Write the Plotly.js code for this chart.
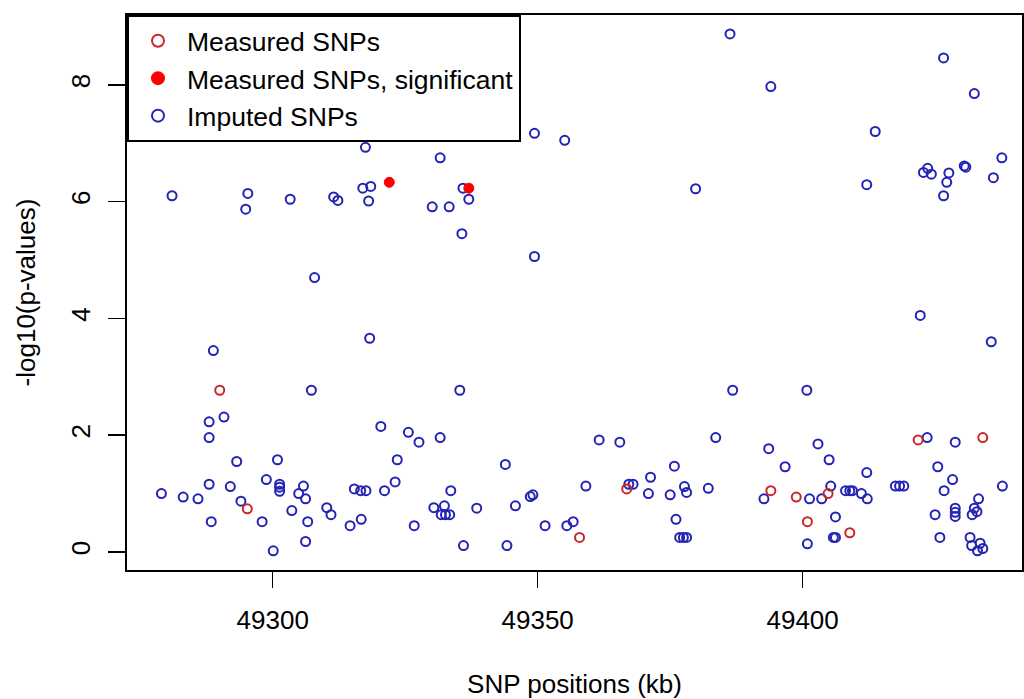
<!DOCTYPE html>
<html>
<head>
<meta charset="utf-8">
<script src="https://cdn.plot.ly/plotly-3.0.1.min.js"></script>
<style>html,body{margin:0;padding:0;background:#fff;}#chart{width:1024px;height:699px;}</style>
</head>
<body>
<div id="chart"></div>
<script>
// Imputed SNPs: position (kb) and -log10(p)
const imputedPos = [
49317.5,49281.0,49295.3,49303.3,49311.5,49312.3,49317.0,49318.5,49318.1,49294.9,
49330.1,49333.3,49307.9,49318.3,49288.8,49349.4,49355.1,49331.6,49335.9,49337.0,
49379.8,49335.7,49349.4,49386.3,49394.0,49413.7,49426.6,49432.4,49437.6,49412.1,
49422.8,49424.3,49423.6,49427.6,49427.2,49426.6,49430.5,49430.8,49436.0,49422.2,
49435.6,49307.3,49290.8,49288.0,49288.0,49320.4,49325.6,49327.6,49293.2,49300.9,
49323.5,49298.8,49288.0,49292.0,49301.3,49301.3,49301.3,49305.8,49304.9,49306.2,
49279.0,49283.1,49285.9,49294.0,49303.6,49310.2,49311.0,49288.4,49298.0,49306.6,
49315.4,49316.6,49317.6,49321.1,49323.1,49316.7,49314.6,49326.7,49306.2,49300.1,
49335.3,49331.6,49361.6,49365.5,49383.6,49343.9,49333.6,49330.4,49332.4,49331.8,
49332.6,49333.4,49338.5,49345.8,49348.6,49349.1,49351.4,49355.5,49356.7,49336.0,
49344.2,49359.1,49367.2,49368.0,49371.3,49370.9,49375.0,49375.8,49377.7,49378.1,
49382.2,49376.1,49376.8,49377.5,49378.1,49386.8,49400.8,49393.6,49402.9,49405.0,
49396.7,49412.1,49423.5,49428.8,49425.5,49428.3,49426.7,49437.7,49392.7,49401.3,
49403.6,49405.3,49408.1,49408.9,49409.4,49411.1,49412.2,49417.5,49418.3,49419.1,
49425.0,49428.8,49428.8,49428.8,49433.2,49432.0,49432.9,49432.4,49406.2,49405.8,
49406.2,49400.9,49425.9,49431.6,49431.9,49433.5,49433.0,49434.0
];
const imputedLogP = [
6.93,6.10,6.14,6.04,6.08,6.02,6.23,6.26,6.01,5.87,
5.91,5.91,4.70,3.66,3.45,7.17,7.05,6.75,6.23,6.04,
6.22,5.45,5.06,8.87,7.97,7.20,8.46,7.85,6.75,6.29,
6.50,6.47,6.57,6.49,6.33,6.10,6.61,6.59,6.41,4.05,
3.60,2.77,2.31,2.23,1.96,2.15,2.05,1.88,1.55,1.58,
1.58,1.24,1.16,1.12,1.16,1.11,1.04,1.13,1.00,0.91,
1.00,0.94,0.91,0.87,0.71,0.76,0.64,0.52,0.52,0.52,
1.08,1.05,1.05,1.05,1.20,0.56,0.45,0.45,0.18,0.02,
2.77,1.96,1.92,1.88,1.96,1.50,1.05,0.76,0.79,0.64,
0.64,0.64,0.75,0.79,0.95,0.98,0.45,0.45,0.52,0.11,
0.11,1.13,1.16,1.16,1.28,1.00,0.98,1.47,1.12,1.02,
1.09,0.56,0.25,0.25,0.25,2.77,2.77,1.77,1.85,1.58,
1.46,1.36,1.96,1.88,1.46,1.24,1.05,1.13,0.91,0.91,
0.91,1.13,1.05,1.05,1.05,1.00,0.91,1.13,1.13,1.13,
0.64,0.75,0.68,0.61,0.91,0.64,0.69,0.75,0.60,0.25,
0.25,0.14,0.25,0.25,0.11,0.15,0.02,0.06
];
// Measured SNPs (not significant)
const measuredPos  = [49290.0,49295.2,49357.9,49366.8,49421.8,49434.0,49394.0,49398.8,49404.8,49400.9,49408.9];
const measuredLogP = [2.77,0.74,0.25,1.08,1.92,1.96,1.05,0.94,1.00,0.52,0.33];
// Measured SNPs, significant
const sigPos  = [49322.0,49337.0];
const sigLogP = [6.33,6.23];

const xTicks = [49300,49350,49400];
const yTicks = [0,2,4,6,8];

const FONT = "Liberation Sans, Arial, Helvetica, sans-serif";
const BLUE = "#2323b4";
const RED_OPEN = "#c82828";
const RED = "#ff0000";

const traces = [
  {x: imputedPos, y: imputedLogP, type: "scatter", mode: "markers", name: "Imputed SNPs", legendrank: 3,
   marker: {symbol: "circle-open", size: 9, color: BLUE, line: {width: 2, color: BLUE}}},
  {x: measuredPos, y: measuredLogP, type: "scatter", mode: "markers", name: "Measured SNPs", legendrank: 1,
   marker: {symbol: "circle-open", size: 9, color: RED_OPEN, line: {width: 2, color: RED_OPEN}}},
  {x: sigPos, y: sigLogP, type: "scatter", mode: "markers", name: "Measured SNPs, significant", legendrank: 2,
   marker: {symbol: "circle", size: 10, color: RED, line: {width: 1, color: RED}}}
];

const layout = {
  width: 1024, height: 699,
  margin: {l: 127, r: 2, t: 15, b: 129},
  paper_bgcolor: "#fff", plot_bgcolor: "#fff",
  font: {family: FONT, size: 26, color: "#000"},
  showlegend: true,
  legend: {x: 0, y: 1, xanchor: "left", yanchor: "top", bgcolor: "#fff",
    bordercolor: "#000", borderwidth: 2, font: {family: FONT, size: 26.5, color: "#000"},
    itemsizing: "constant", itemwidth: 48, tracegroupgap: 0},
  xaxis: {range: [49272.5, 49441.4], tickmode: "array", tickvals: xTicks, ticktext: xTicks.map(String),
    showgrid: false, zeroline: false, showline: true, mirror: true, linecolor: "#000", linewidth: 2,
    ticks: "outside", ticklen: 16, tickwidth: 1.5, tickcolor: "#000", ticklabelstandoff: 10,
    tickfont: {family: FONT, size: 26, color: "#000"},
    title: {text: "SNP positions (kb)", font: {family: FONT, size: 26, color: "#000"}, standoff: 42}},
  yaxis: {range: [-0.308, 9.195], tickmode: "array", tickvals: yTicks, ticktext: yTicks.map(String),
    tickangle: -90,
    showgrid: false, zeroline: false, showline: true, mirror: true, linecolor: "#000", linewidth: 2,
    ticks: "outside", ticklen: 17, tickwidth: 1.5, tickcolor: "#000", ticklabelstandoff: 8,
    tickfont: {family: FONT, size: 26, color: "#000"},
    title: {text: "-log10(p-values)", font: {family: FONT, size: 26, color: "#000"}, standoff: 22}}
};

Plotly.newPlot("chart", traces, layout, {staticPlot: true, displayModeBar: false});
</script>
</body>
</html>
